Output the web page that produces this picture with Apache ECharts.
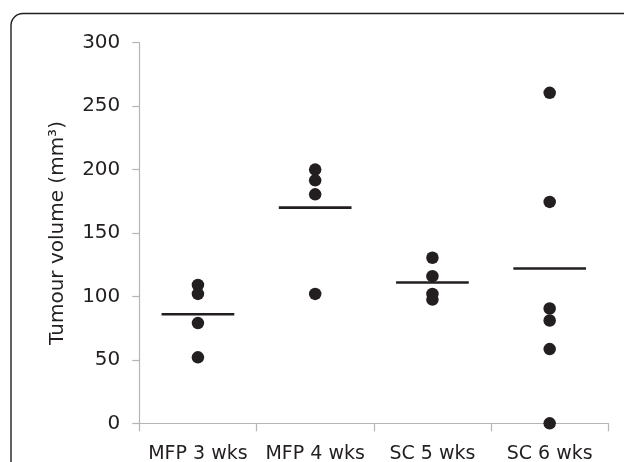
<!DOCTYPE html>
<html>
<head>
<meta charset="utf-8">
<style>
  html, body { margin: 0; padding: 0; background: #ffffff; }
  #chart { width: 624px; height: 462px; }
</style>
<script src="https://cdn.jsdelivr.net/npm/echarts@6/dist/echarts.min.js"></script>
</head>
<body>
<div id="chart"></div>
<script>
// ---- data ----
var categories = ['MFP 3 wks', 'MFP 4 wks', 'SC 5 wks', 'SC 6 wks'];
var mfp3Values = [109, 102, 79, 52];
var mfp4Values = [200, 191.5, 180.5, 102];
var sc5Values = [130.5, 116, 102, 97.5];
var sc6Values = [260.5, 174.5, 90.5, 81, 58.5, 0];
var meanValues = [86, 170, 111, 122];
var yTicks = [0, 50, 100, 150, 200, 250, 300];

var groups = [mfp3Values, mfp4Values, sc5Values, sc6Values];
var scatterData = [];
groups.forEach(function (vals, i) {
  vals.forEach(function (v) { scatterData.push([i, v]); });
});
var meanData = meanValues.map(function (v, i) { return [i, v]; });

var ink = '#231f20';
var font = 'DejaVu Sans';

var chart = echarts.init(document.getElementById('chart'), null, { renderer: 'canvas' });
chart.setOption({
  animation: false,
  backgroundColor: '#ffffff',
  grid: { left: 139.3, right: 15.7, top: 42.7, bottom: 38.7, containLabel: false, outerBoundsMode: 'none' },
  graphic: [{
    type: 'rect',
    shape: { x: 11, y: 13.5, width: 700, height: 600, r: 12 },
    style: { fill: 'none', stroke: ink, lineWidth: 1.4 },
    silent: true,
    z: 100
  }],
  xAxis: {
    type: 'category',
    data: categories,
    boundaryGap: true,
    axisLine: { show: true, lineStyle: { color: '#b5b5b5', width: 1.2 } },
    axisTick: { show: true, length: 8, interval: 0, lineStyle: { color: '#b5b5b5', width: 1.2 } },
    axisLabel: { color: ink, fontFamily: font, fontSize: 19, margin: 21, interval: 0, hideOverlap: false },
    splitLine: { show: false }
  },
  yAxis: {
    type: 'value',
    min: 0,
    max: 300,
    interval: 50,
    name: 'Tumour volume (mm³)',
    nameLocation: 'middle',
    nameGap: 72,
    nameTextStyle: { color: ink, fontFamily: font, fontSize: 20 },
    axisLine: { show: true, lineStyle: { color: '#b5b5b5', width: 1.2 } },
    axisTick: { show: true, length: 7, lineStyle: { color: '#b5b5b5', width: 1.2 } },
    axisLabel: {
      color: ink, fontFamily: font, fontSize: 20, margin: 19,
      formatter: function (v) { return yTicks.indexOf(v) >= 0 ? String(v) : ''; }
    },
    splitLine: { show: false }
  },
  series: [
    {
      type: 'custom',
      data: meanData,
      z: 3,
      renderItem: function (params, api) {
        var c = api.coord([api.value(0), api.value(1)]);
        var band = api.size([1, 0])[0];
        var half = band * 0.31;
        return {
          type: 'line',
          shape: { x1: c[0] - half, y1: c[1], x2: c[0] + half, y2: c[1] },
          style: { stroke: ink, lineWidth: 2.6 }
        };
      }
    },
    {
      type: 'scatter',
      data: scatterData,
      symbol: 'circle',
      symbolSize: 12.5,
      clip: false,
      z: 4,
      itemStyle: { color: ink, opacity: 1 }
    }
  ]
});
</script>
</body>
</html>
